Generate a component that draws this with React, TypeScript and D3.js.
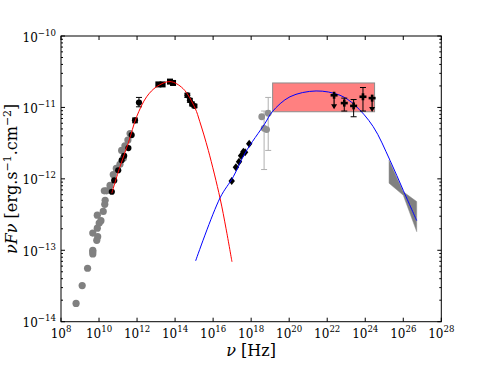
import React from 'react';
import * as d3 from 'd3';

// radio (archival, grey)
const radioNu = [6.2e8, 1.3e9, 2.5e9, 4.7e9, 4.7e9, 4.7e9, 4.7e9, 7.6e9, 8.5e9, 8.1e9, 8.1e9, 1.02e10, 1.26e10, 1.66e10, 2.0e10, 2.1e10, 1.9e10, 2.5e10, 3.8e10, 5.6e10, 8.1e10, 1.26e11, 1.9e11, 1.55e11, 2.3e11, 3.3e11, 4.3e11];
const radioFlux = [1.8e-14, 3.2e-14, 5.6e-14, 1.0e-13, 9.5e-14, 8.9e-14, 1.74e-13, 1.38e-13, 1.55e-13, 2.04e-13, 3.1e-13, 2.4e-13, 2.6e-13, 3.5e-13, 4.4e-13, 5.0e-13, 6.8e-13, 6.8e-13, 8.1e-13, 1.15e-12, 1.4e-12, 1.6e-12, 1.95e-12, 2.5e-12, 2.9e-12, 3.5e-12, 4.3e-12];

// mm / sub-mm (black circles)
const mmNu = [4.7e10, 6.3e10, 1.02e11, 1.55e11, 2.1e11, 3.5e11, 5.2e11, 7.8e11, 1.26e12];
const mmFlux = [6.6e-13, 9.5e-13, 1.32e-12, 1.82e-12, 2.1e-12, 2.7e-12, 4.1e-12, 6.6e-12, 1.17e-11];
const mmErrLo = [6.6e-13, 9.5e-13, 1.32e-12, 1.82e-12, 2.1e-12, 2.7e-12, 4.1e-12, 6.1e-12, 1.02e-11];
const mmErrHi = [6.6e-13, 9.5e-13, 1.32e-12, 1.82e-12, 2.1e-12, 2.7e-12, 4.1e-12, 7.1e-12, 1.38e-11];

// infrared (squares)
const irNu = [1.32e13, 2.2e13, 5.4e13, 7.8e13];
const irFlux = [2.1e-11, 2.1e-11, 2.3e-11, 2.2e-11];

// optical / UV
const uvNu = [4.4e14, 6.0e14, 7.8e14, 1.05e15];
const uvFlux = [1.48e-11, 1.26e-11, 1.12e-11, 1.05e-11];
const uvErrLo = [1.38e-11, 1.18e-11, 1.05e-11, 0.99e-11];
const uvErrHi = [1.58e-11, 1.34e-11, 1.19e-11, 1.11e-11];

// soft X-rays (diamonds)
const xrNu = [9.5e16, 1.58e17, 2.3e17, 2.95e17, 3.9e17, 4.8e17, 7.9e17];
const xrFlux = [9.3e-13, 1.45e-12, 1.74e-12, 2.1e-12, 2.4e-12, 2.35e-12, 3.1e-12];

// hard X-rays (grey, error bars)
const hxNu = [3.6e18, 4.8e18, 6.5e18, 7.9e18];
const hxFlux = [7.4e-12, 5.1e-12, 4.9e-12, 8.3e-12];
const hxErrLo = [7.4e-12, 1.35e-12, 4.9e-12, 2.5e-12];
const hxErrHi = [7.4e-12, 8.9e-12, 4.9e-12, 1.38e-11];

// Fermi-LAT
const latNu = [2.3e22, 7.9e22, 2.45e23, 7.6e23, 2.3e24];
const latFlux = [1.48e-11, 1.15e-11, 1.05e-11, 1.41e-11, 1.35e-11];
const latErrLo = [1.48e-11, 8.9e-12, 7.4e-12, 8.9e-12, 1.35e-11];
const latErrHi = [1.58e-11, 1.35e-11, 1.29e-11, 1.9e-11, 1.42e-11];
const latUpper = [true, false, false, false, true];

// butterfly (TeV)
const tevNu = [1.78e25, 1.0e26, 5.1e26];
const tevUpper = [1.82e-12, 6.6e-13, 4.8e-13];
const tevLower = [8.7e-13, 5.9e-13, 1.82e-13];

// box
const boxNu = [1.35e19, 3.1e24];
const boxFlux = [8.7e-12, 2.2e-11];

// model curves
const syncNu = [4.7e10, 1.26e11, 3.5e11, 9.5e11, 3.2e12, 1.07e13, 5.4e13, 2.6e14, 1.12e15, 2.0e15, 5.6e15, 2.3e16, 4.8e16, 9.8e16];
const syncFlux = [6.3e-13, 1.48e-12, 3.2e-12, 7.4e-12, 1.41e-11, 1.95e-11, 2.3e-11, 1.84e-11, 9.8e-12, 6.3e-12, 2.5e-12, 5.4e-13, 2.0e-13, 6.9e-14];
const sscNu = [1.2e15, 2.3e16, 1.15e17, 4.8e17, 5.4e18, 1.29e19, 1.1e20, 2.6e21, 4.7e22, 2.9e23, 2.6e24, 2.0e25, 1.0e26, 5.1e26];
const sscFlux = [7.1e-14, 5.4e-13, 1.07e-12, 2.3e-12, 6.0e-12, 8.7e-12, 1.41e-11, 1.7e-11, 1.48e-11, 1.07e-11, 5.4e-12, 1.82e-12, 6.9e-13, 2.6e-13];

const xTickExps = [8, 10, 12, 14, 16, 18, 20, 22, 24, 26, 28];
const yTickExps = [-14, -13, -12, -11, -10];

const W = 491;
const H = 368;
const L = 61, R = 441.3, T = 36, B = 321.7;
const font = 'DejaVu Serif';

const App = () => {
  const x = d3.scaleLog().domain([1e8, 1e28]).range([L, R]);
  const y = d3.scaleLog().domain([1e-14, 1e-10]).range([B, T]);

  const line = d3.line<[number, number]>()
    .x(d => x(d[0]))
    .y(d => y(d[1]))
    .curve(d3.curveCatmullRom);

  const syncPath = line(d3.zip(syncNu, syncFlux) as [number, number][]) || '';
  const sscPath = line(d3.zip(sscNu, sscFlux) as [number, number][]) || '';

  const tevPts = [
    ...tevNu.map((n, i) => [x(n), y(tevUpper[i])]),
    ...tevNu.map((n, i) => [x(n), y(tevLower[i])]).reverse(),
  ];

  const minorY: number[] = [];
  yTickExps.slice(0, -1).forEach(e => {
    for (let s = 2; s <= 9; s++) minorY.push(s * Math.pow(10, e));
  });

  const errBar = (xv: number, lo: number, hi: number, color: string, key: string) => {
    if (lo === hi) return null;
    const px = x(xv);
    return (
      <g key={key} stroke={color} strokeWidth={1}>
        <line x1={px} x2={px} y1={y(lo)} y2={y(hi)} />
        <line x1={px - 3} x2={px + 3} y1={y(lo)} y2={y(lo)} />
        <line x1={px - 3} x2={px + 3} y1={y(hi)} y2={y(hi)} />
      </g>
    );
  };

  const plus = (cx: number, cy: number) => (
    <>
      <line x1={cx - 3.5} x2={cx + 3.5} y1={cy} y2={cy} stroke="#000" strokeWidth={2.6} />
      <line x1={cx} x2={cx} y1={cy - 3.5} y2={cy + 3.5} stroke="#000" strokeWidth={2.6} />
    </>
  );

  return (
    <svg width={W} height={H} style={{ position: 'absolute', left: 0, top: 0, background: '#fff' }}>
      <rect x={0} y={0} width={W} height={H} fill="#fff" />

      {/* box */}
      <rect
        x={x(boxNu[0])}
        y={y(boxFlux[1])}
        width={x(boxNu[1]) - x(boxNu[0])}
        height={y(boxFlux[0]) - y(boxFlux[1])}
        fill="#ff8080"
        stroke="#8c8c8c"
        strokeWidth={1}
      />

      {/* butterfly */}
      <polygon points={tevPts.map(p => p.join(',')).join(' ')} fill="#808080" stroke="#909090" strokeWidth={0.5} />

      {/* grey radio */}
      {radioNu.map((n, i) => (
        <circle key={'r' + i} cx={x(n)} cy={y(radioFlux[i])} r={3.6} fill="#808080" />
      ))}

      {/* hard X-ray */}
      {hxNu.map((n, i) => errBar(n, hxErrLo[i], hxErrHi[i], '#b0b0b0', 'hxe' + i))}
      {hxNu.map((n, i) => (
        <circle key={'hx' + i} cx={x(n)} cy={y(hxFlux[i])} r={3.4} fill="#909090" />
      ))}

      {/* mm */}
      {mmNu.map((n, i) => errBar(n, mmErrLo[i], mmErrHi[i], '#000', 'mme' + i))}
      {mmNu.map((n, i) => (
        <circle key={'mm' + i} cx={x(n)} cy={y(mmFlux[i])} r={3.1} fill="#000" />
      ))}

      {/* IR squares */}
      {irNu.map((n, i) => (
        <rect key={'ir' + i} x={x(n) - 3} y={y(irFlux[i]) - 3} width={6} height={6} fill="#000" />
      ))}

      {/* UV */}
      {uvNu.map((n, i) => errBar(n, uvErrLo[i], uvErrHi[i], '#000', 'uve' + i))}
      {uvNu.map((n, i) => (
        <circle key={'uv' + i} cx={x(n)} cy={y(uvFlux[i])} r={3} fill="#000" />
      ))}

      {/* X-ray diamonds */}
      {xrNu.map((n, i) => {
        const cx = x(n), cy = y(xrFlux[i]);
        return <polygon key={'xr' + i} points={`${cx},${cy - 4} ${cx + 3.2},${cy} ${cx},${cy + 4} ${cx - 3.2},${cy}`} fill="#000" />;
      })}

      {/* models */}
      <path d={syncPath} fill="none" stroke="#ff0000" strokeWidth={1} />
      <path d={sscPath} fill="none" stroke="#0000ff" strokeWidth={1} />

      {/* Fermi-LAT */}
      {latNu.map((n, i) => {
        const cx = x(n), cy = y(latFlux[i]);
        if (latUpper[i]) {
          return (
            <g key={'lat' + i}>
              <line x1={cx} x2={cx} y1={y(latErrHi[i])} y2={cy + 10} stroke="#000" strokeWidth={1.2} />
              <polygon points={`${cx - 3},${cy + 9} ${cx + 3},${cy + 9} ${cx},${cy + 14}`} fill="#000" />
              {plus(cx, cy)}
            </g>
          );
        }
        return (
          <g key={'lat' + i}>
            {errBar(n, latErrLo[i], latErrHi[i], '#000', 'late' + i)}
            {plus(cx, cy)}
          </g>
        );
      })}

      {/* frame */}
      <rect x={L} y={T} width={R - L} height={B - T} fill="none" stroke="#000" strokeWidth={1} />

      {/* x ticks */}
      {xTickExps.map(e => {
        const px = x(Math.pow(10, e));
        return (
          <g key={'xt' + e}>
            <line x1={px} x2={px} y1={B} y2={B - 4} stroke="#000" />
            <line x1={px} x2={px} y1={T} y2={T + 4} stroke="#000" />
            <text x={px} y={338} textAnchor="middle" fontFamily={font} fontSize={12}>
              10<tspan dy={-6} fontSize={8.6}>{e}</tspan>
            </text>
          </g>
        );
      })}

      {/* y ticks */}
      {yTickExps.map(e => {
        const py = y(Math.pow(10, e));
        return (
          <g key={'yt' + e}>
            <line x1={L} x2={L + 4} y1={py} y2={py} stroke="#000" />
            <line x1={R} x2={R - 4} y1={py} y2={py} stroke="#000" />
            <text x={56} y={py + 5.5} textAnchor="end" fontFamily={font} fontSize={12}>
              10<tspan dy={-6} fontSize={8.6}>{'\u2212' + Math.abs(e)}</tspan>
            </text>
          </g>
        );
      })}
      {minorY.map((v, i) => {
        const py = y(v);
        return (
          <g key={'ym' + i}>
            <line x1={L} x2={L + 2} y1={py} y2={py} stroke="#000" />
            <line x1={R} x2={R - 2} y1={py} y2={py} stroke="#000" />
          </g>
        );
      })}

      {/* axis labels */}
      <text x={(L + R) / 2} y={356} textAnchor="middle" fontFamily={font} fontSize={16}>
        <tspan fontStyle="italic">ν</tspan> [Hz]
      </text>
      <text transform={`translate(16.5,${(T + B) / 2}) rotate(-90)`} textAnchor="middle" fontFamily={font} fontSize={16}>
        <tspan fontStyle="italic">νFν</tspan> [erg.s<tspan dy={-6} fontSize={11}>{'\u22121'}</tspan>
        <tspan dy={6}>.cm</tspan><tspan dy={-6} fontSize={11}>{'\u22122'}</tspan><tspan dy={6}>]</tspan>
      </text>
    </svg>
  );
};

export default App;
